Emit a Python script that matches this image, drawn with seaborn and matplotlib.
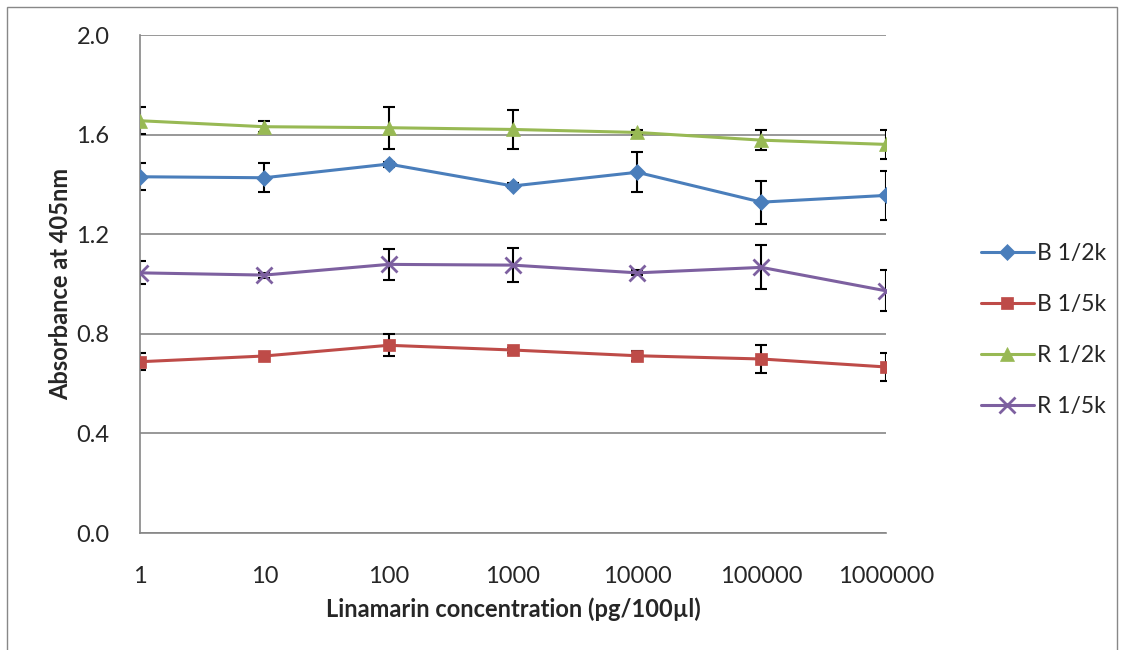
import pandas as pd
import numpy as np
import seaborn as sns
import matplotlib.pyplot as plt
from matplotlib.patches import Rectangle

# data
conc = ["1", "10", "100", "1000", "10000", "100000", "1000000"]
b_2k = [1.431, 1.427, 1.482, 1.394, 1.449, 1.329, 1.356]
b_2k_err = [0.055, 0.058, 0.01, 0.01, 0.08, 0.086, 0.10]
b_5k = [0.688, 0.711, 0.754, 0.735, 0.712, 0.699, 0.667]
b_5k_err = [0.035, 0.0, 0.044, 0.01, 0.02, 0.055, 0.055]
r_2k = [1.656, 1.632, 1.628, 1.621, 1.609, 1.578, 1.561]
r_2k_err = [0.055, 0.022, 0.085, 0.077, 0.01, 0.04, 0.058]
r_5k = [1.045, 1.036, 1.079, 1.076, 1.045, 1.067, 0.973]
r_5k_err = [0.046, 0.01, 0.062, 0.068, 0.01, 0.088, 0.082]

names = ["B 1/2k", "B 1/5k", "R 1/2k", "R 1/5k"]
vals = [b_2k, b_5k, r_2k, r_5k]
errs = [b_2k_err, b_5k_err, r_2k_err, r_5k_err]
colors = ["#4a7ebb", "#be4b48", "#98b954", "#7d60a0"]
markers = ["D", "s", "^", "x"]
msizes = [8, 9, 10, 11]

rows = []
for n, v in zip(names, vals):
    for i, y in enumerate(v):
        rows.append({"series": n, "pos": i, "value": y})
df = pd.DataFrame(rows)

sns.set_style("white")
plt.rcParams['font.family'] = ['Lato', 'DejaVu Sans']

fig = plt.figure(figsize=(11.24, 6.5), dpi=100)
ax = fig.add_axes([0.1246, 0.18, 0.788 - 0.1246, 0.946 - 0.18])

for n, v, e, c, m, ms in zip(names, vals, errs, colors, markers, msizes):
    sub = df[df["series"] == n]
    ax.errorbar(sub["pos"], sub["value"], yerr=e, fmt="none", ecolor="black",
                elinewidth=1.5, capsize=4, capthick=1.5, zorder=2)
    sns.lineplot(data=sub, x="pos", y="value", color=c, marker=m, markersize=ms,
                 markeredgecolor=c, markeredgewidth=2 if m == "x" else 0.5,
                 linewidth=2.2, label=n, ax=ax, zorder=3)

ax.set_xlim(0, 6)
ax.set_ylim(0, 2.0)
ax.set_xticks(range(len(conc)))
ax.set_xticklabels(conc)
ax.set_yticks([0, 0.4, 0.8, 1.2, 1.6, 2.0])
ax.set_yticklabels(["0.0", "0.4", "0.8", "1.2", "1.6", "2.0"])
ax.tick_params(axis="both", labelsize=17, length=0)
ax.tick_params(axis="x", pad=24)
ax.tick_params(axis="y", pad=22)
ax.yaxis.grid(True, color="#868686", linewidth=1.2)
ax.xaxis.grid(False)
for s in ["top", "right"]:
    ax.spines[s].set_visible(False)
ax.spines["left"].set_color("#868686")
ax.spines["bottom"].set_color("#868686")
ax.spines["left"].set_linewidth(1.2)
ax.spines["bottom"].set_linewidth(1.2)

ax.set_xlabel("Linamarin concentration (pg/100µl)", fontsize=17, fontweight="bold", labelpad=7)
ax.set_ylabel("Absorbance at 405nm", fontsize=17, fontweight="bold", labelpad=3)

leg = ax.legend(loc="center left", bbox_to_anchor=(1.1, 0.408), frameon=False,
                fontsize=16.5, labelspacing=1.3, handlelength=2.3, handletextpad=0.15)

fig.patches.append(Rectangle((0.006, -0.01), 0.988, 1.0, transform=fig.transFigure,
                             fill=False, edgecolor="#888888", linewidth=1))

fig.savefig("out.png", dpi=100)
